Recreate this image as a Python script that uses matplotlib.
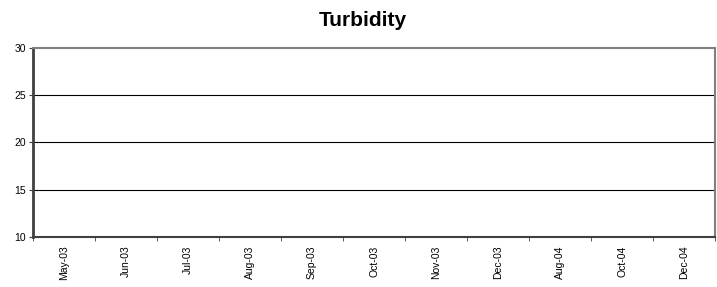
import matplotlib
matplotlib.use("Agg")
import matplotlib.pyplot as plt
import numpy as np

plt.rcParams['font.family'] = ['Liberation Sans', 'DejaVu Sans']

categories = ["May-03", "Jun-03", "Jul-03", "Aug-03", "Sep-03", "Oct-03",
              "Nov-03", "Dec-03", "Aug-04", "Oct-04", "Dec-04"]
turbidity = [None, None, None, None, None, None, None, None, None, None, None]
y_ticks = [10, 15, 20, 25, 30]

fig = plt.figure(figsize=(7.17, 2.87), dpi=100)
ax = fig.add_axes([33/717, 1 - 237/287, (715 - 33)/717, (237 - 48)/287])

x = np.arange(len(categories))
vals = np.array([np.nan if v is None else v for v in turbidity], dtype=float)
ax.plot(x, vals, color='#000080', marker='s')

ax.set_xlim(-0.5, len(categories) - 0.5)
ax.set_ylim(10, 30)
ax.set_yticks(y_ticks)
ax.set_yticklabels([str(t) for t in y_ticks], fontsize=7.5)
for t in y_ticks[1:-1]:
    ax.axhline(t, color='black', lw=0.8, zorder=1)

ax.set_xticks(x)
ax.set_xticklabels(categories, rotation=90, fontsize=7.5)
ax.tick_params(axis='x', which='major', length=0, pad=6)
ax.set_xticks(np.arange(-0.5, len(categories) + 0.5, 1), minor=True)
ax.tick_params(axis='x', which='minor', length=3, direction='out', color='#404040')
ax.tick_params(axis='y', length=3, direction='out', color='#404040', pad=2)

for side in ['top', 'right']:
    ax.spines[side].set_color('#808080')
    ax.spines[side].set_linewidth(1.5)
ax.spines['left'].set_color('#404040')
ax.spines['left'].set_linewidth(2)
ax.spines['bottom'].set_color('#404040')
ax.spines['bottom'].set_linewidth(1.5)

fig.text(363/717, 1 - 20/287, "Turbidity", ha='center', va='center',
         fontsize=15, fontweight='bold')

fig.savefig("out.png", dpi=100)
